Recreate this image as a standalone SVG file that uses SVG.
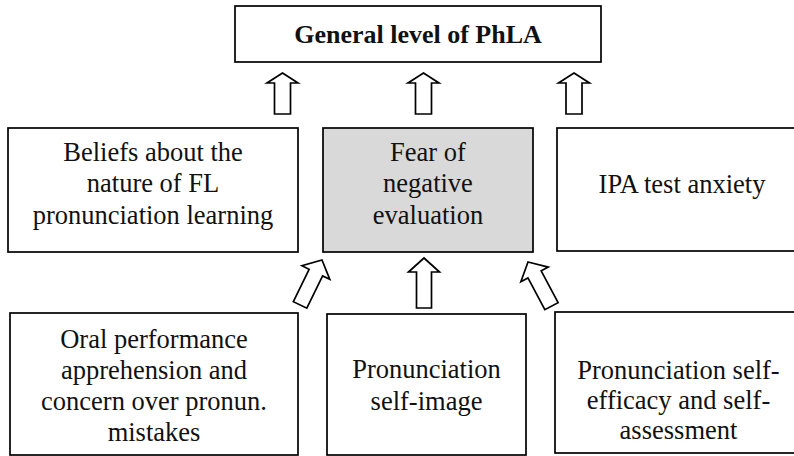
<svg xmlns="http://www.w3.org/2000/svg" width="794" height="456" viewBox="0 0 794 456">
<defs>
<style>
.box{fill:#fff;stroke:#000;stroke-width:1.7}
.grey{fill:#d9d9d9}
.t{font-family:"Liberation Serif","Times New Roman",serif;font-size:26.5px;fill:#111;text-anchor:middle}
.b{font-weight:bold;font-size:26px}
.arr{fill:#fff;stroke:#000;stroke-width:1.7;stroke-linejoin:miter}
</style>
<path id="upA" d="M0,0 L15.5,10 L8,10 L8,41 L-8,41 L-8,10 L-15.5,10 Z"/>
<path id="upB" d="M0,0 L15.5,14 L7.5,14 L7.5,50 L-7.5,50 L-7.5,14 L-15.5,14 Z"/>
</defs>
<rect width="794" height="456" fill="#fff"/>
<g id="general">
<rect class="box" x="235" y="6" width="366" height="56"/>
<text class="t b" x="418" y="43">General level of PhLA</text>
</g>
<g id="beliefs">
<rect class="box" x="8" y="128" width="290" height="124"/>
<text class="t" x="153" y="161">Beliefs about the</text>
<text class="t" x="153" y="192">nature of FL</text>
<text class="t" x="153" y="224">pronunciation learning</text>
</g>
<g id="fear">
<rect class="box grey" x="323" y="128" width="210" height="124"/>
<text class="t" x="428" y="161">Fear of</text>
<text class="t" x="428" y="192">negative</text>
<text class="t" x="428" y="224">evaluation</text>
</g>
<g id="ipa">
<rect class="box" x="557" y="128" width="250" height="123"/>
<text class="t" x="682" y="193">IPA test anxiety</text>
</g>
<g id="oral">
<rect class="box" x="10" y="313" width="288" height="142"/>
<text class="t" x="154" y="348">Oral performance</text>
<text class="t" x="154" y="379">apprehension and</text>
<text class="t" x="154" y="410">concern over pronun.</text>
<text class="t" x="154" y="441">mistakes</text>
</g>
<g id="selfimage">
<rect class="box" x="327" y="314" width="199" height="141"/>
<text class="t" x="426.5" y="378">Pronunciation</text>
<text class="t" x="426.5" y="410">self-image</text>
</g>
<g id="selfefficacy">
<rect class="box" x="555" y="312" width="247" height="141"/>
<text class="t" x="678.5" y="379">Pronunciation self-</text>
<text class="t" x="678.5" y="409">efficacy and self-</text>
<text class="t" x="678.5" y="439">assessment</text>
</g>
<g id="connectors">
<use href="#upA" class="arr" transform="translate(282.5,73)"/>
<use href="#upA" class="arr" transform="translate(423.5,73)"/>
<use href="#upA" class="arr" transform="translate(574,73)"/>
<use href="#upB" class="arr" transform="translate(424,258)"/>
<use href="#upB" class="arr" transform="translate(322,260) rotate(26)"/>
<use href="#upB" class="arr" transform="translate(528,262) rotate(-28)"/>
</g>
</svg>
